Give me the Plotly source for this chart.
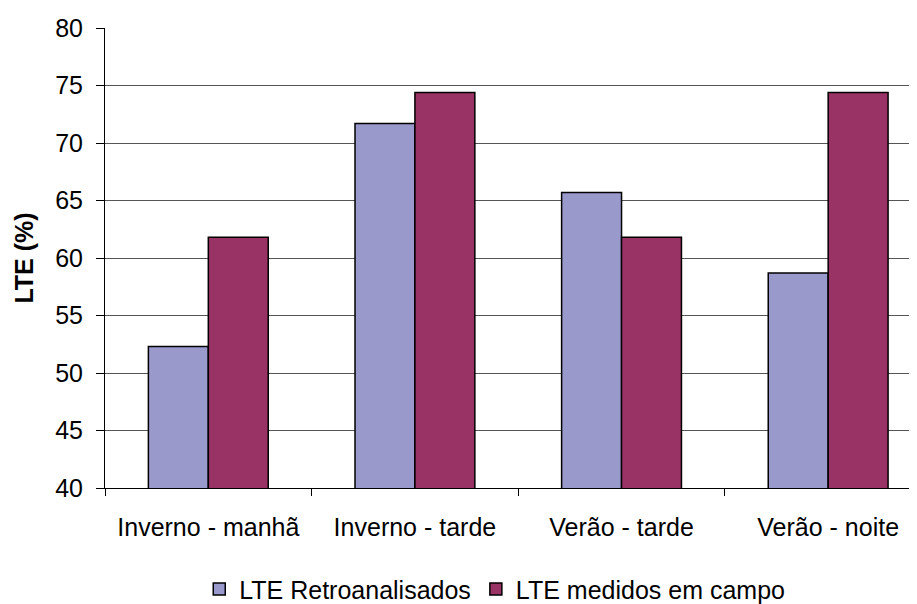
import plotly.graph_objects as go

categories = ["Inverno - manhã", "Inverno - tarde", "Verão - tarde", "Verão - noite"]
retro = [52.3, 71.7, 65.7, 58.7]
medidos = [61.8, 74.4, 61.8, 74.4]
series_names = ["LTE Retroanalisados", "LTE medidos em campo"]
y_ticks = [40, 45, 50, 55, 60, 65, 70, 75, 80]

font = "Liberation Sans, Arial, sans-serif"

fig = go.Figure()
fig.add_trace(go.Bar(x=categories, y=retro, name=series_names[0],
                     marker=dict(color="#9999cc", line=dict(color="black", width=1.5))))
fig.add_trace(go.Bar(x=categories, y=medidos, name=series_names[1],
                     marker=dict(color="#993366", line=dict(color="black", width=1.5))))

# page body has an 8px margin, so the figure is sized/offset to compensate
fig.update_layout(
    width=909, height=596,
    margin=dict(l=97, r=0, t=20, b=116, autoexpand=False),
    paper_bgcolor="white", plot_bgcolor="white",
    barmode="group", bargap=0.42, bargroupgap=0,
    font=dict(family=font, size=25, color="black"),
    showlegend=True,
    legend=dict(orientation="h", x=0.48, xanchor="center", y=-0.22, yanchor="middle",
                font=dict(size=25), itemwidth=30, tracegroupgap=0),
    xaxis=dict(range=[-0.5, 3.43], tickson="boundaries", ticks="outside", ticklen=7,
               tickcolor="black", showline=True, linecolor="black", linewidth=1,
               showgrid=False, tickfont=dict(size=25), ticklabelstandoff=17,
               automargin=False),
    yaxis=dict(range=[40, 80], tickvals=y_ticks, ticks="outside", ticklen=8,
               tickcolor="black", showline=True, linecolor="black", linewidth=1,
               showgrid=True, gridcolor="#555555", gridwidth=1, zeroline=False,
               tickfont=dict(size=25), ticklabelstandoff=8, automargin=False,
               title=dict(text="<b>LTE (%)</b>", font=dict(size=25), standoff=14)),
)

fig.write_html("out.html")
